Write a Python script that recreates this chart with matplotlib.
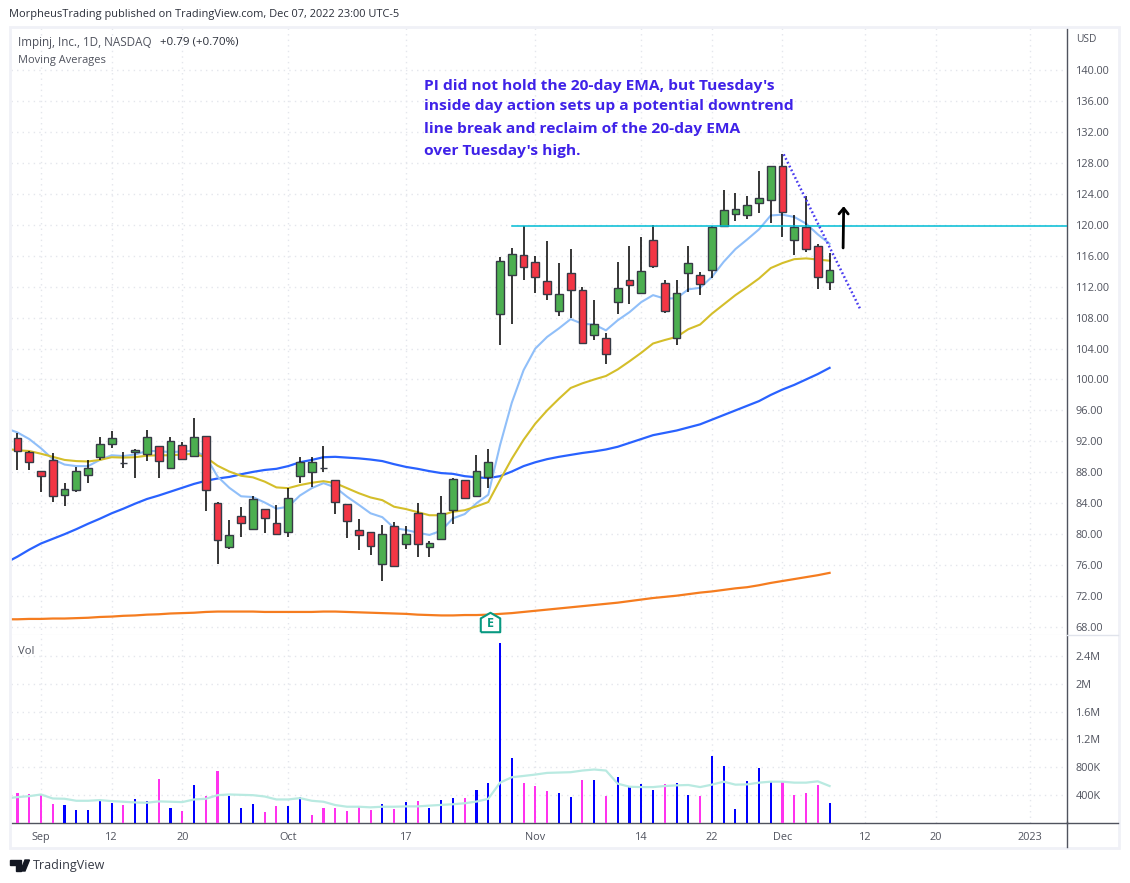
import matplotlib
matplotlib.use('Agg')
import matplotlib.pyplot as plt
import numpy as np
import pandas as pd
from matplotlib.lines import Line2D
from matplotlib.patches import Polygon, Rectangle

plt.rcParams['font.family'] = ['Open Sans', 'DejaVu Sans']

W, H = 1130, 883

# trading days, 2022-08-29 onward, plus the empty future part of the chart
holidays = ['2022-09-05', '2022-11-24', '2022-12-26', '2023-01-02']
days = pd.bdate_range('2022-08-29', '2023-01-20').drop(pd.to_datetime(holidays))

opens = [92.4, 92.4, 90.6, 88.2, 89.6, 85.05, 85.7, 87.6, 90.0, 91.6, 89.2, 90.6, 90.35, 91.4,
         88.55, 91.5, 90.1, 92.7, 84.0, 78.3, 82.3, 80.65, 83.2, 81.4, 80.25, 87.5, 88.0, 88.6,
         87.0, 83.85, 80.5, 80.25, 76.15, 81.0, 78.7, 82.7, 78.3, 79.35, 83.1, 87.0, 85.0, 87.35,
         108.5, 113.55, 116.15, 115.2, 112.75, 108.8, 113.8, 111.6, 105.8, 105.3, 110.05, 112.9,
         111.2, 118.05, 112.5, 105.4, 113.8, 113.45, 114.2, 119.9, 121.45, 121.2, 122.75, 123.25,
         127.65, 118.0, 119.65, 117.3, 112.65]
closes = [91.2, 90.7, 89.3, 87.5, 84.9, 85.8, 88.15, 88.6, 91.6, 92.4, 89.15, 90.9, 92.55, 89.45,
          92.0, 89.7, 92.55, 85.7, 79.2, 79.9, 81.4, 84.5, 82.05, 80.0, 84.65, 89.3, 89.3, 88.55,
          84.15, 81.7, 79.9, 78.45, 80.0, 75.9, 80.0, 78.7, 78.85, 82.7, 87.1, 84.65, 88.15, 89.3,
          115.35, 116.25, 114.6, 113.3, 111.0, 111.0, 111.6, 104.65, 107.2, 103.35, 111.85, 112.15,
          114.05, 114.7, 108.8, 111.2, 115.0, 112.4, 119.75, 121.85, 122.0, 122.5, 123.4, 127.65,
          121.6, 119.65, 116.9, 113.3, 114.1]
highs = [92.8, 93.1, 90.8, 88.2, 90.5, 86.6, 88.7, 89.6, 92.6, 93.4, 90.6, 91.0, 93.5, 91.4,
         92.6, 91.9, 95.05, 92.7, 84.15, 81.8, 83.5, 84.9, 83.2, 83.75, 85.95, 90.0, 90.0, 91.35,
         87.0, 83.85, 81.95, 80.25, 81.15, 81.55, 81.0, 84.0, 79.15, 84.9, 87.25, 87.0, 90.3, 91.0,
         115.85, 117.0, 119.8, 116.0, 117.95, 115.1, 116.8, 112.0, 110.3, 106.05, 115.2, 117.3,
         118.45, 120.0, 112.8, 112.9, 117.2, 113.95, 119.8, 124.55, 124.15, 123.65, 127.0, 127.65,
         129.1, 121.2, 123.65, 117.55, 116.4]
lows = [90.8, 88.3, 88.3, 85.5, 84.1, 83.6, 85.5, 86.6, 89.6, 91.2, 88.6, 87.2, 89.5, 87.2,
        88.5, 89.7, 90.1, 82.95, 76.1, 78.15, 79.7, 80.6, 80.1, 80.0, 79.7, 86.65, 86.15, 88.1,
        82.65, 79.55, 77.9, 77.25, 73.9, 75.9, 78.15, 77.1, 77.1, 79.35, 81.35, 84.5, 84.85, 85.95,
        104.45, 107.2, 112.85, 111.2, 110.3, 108.2, 107.9, 104.65, 105.1, 101.95, 108.5, 109.7,
        111.2, 114.45, 108.6, 104.5, 111.35, 110.95, 113.1, 119.8, 120.5, 120.75, 121.55, 120.25,
        118.45, 116.1, 116.5, 111.7, 111.6]

ema_fast = [93.7, 93.15, 92.3, 91.1, 89.7, 89.0, 88.8, 88.8, 89.6, 90.2, 90.1, 90.3, 90.75, 90.75,
            90.6, 90.7, 90.8, 90.05, 87.45, 86.0, 84.9, 84.8, 84.1, 83.3, 83.55, 85.0, 85.95, 86.6,
            86.05, 84.85, 83.8, 82.7, 82.2, 80.8, 80.55, 80.2, 79.9, 80.45, 82.05, 82.6, 84.0, 85.1,
            91.5, 97.0, 101.2, 104.0, 105.5, 106.6, 107.8, 107.2, 107.1, 106.35, 107.65, 108.7,
            110.0, 110.9, 110.45, 110.5, 111.65, 111.85, 113.25, 115.2, 116.85, 118.1, 119.4, 121.2,
            121.3, 121.0, 120.15, 118.75, 117.55]
ema_mid = [91.05, 90.85, 90.75, 90.4, 90.0, 89.6, 89.45, 89.4, 89.6, 89.95, 89.9, 89.95, 90.15, 90.2,
           90.2, 90.3, 90.4, 89.95, 88.85, 88.1, 87.55, 87.35, 86.8, 86.05, 85.95, 86.35, 86.65, 86.85,
           86.6, 85.95, 85.3, 84.75, 84.4, 83.55, 83.25, 82.85, 82.45, 82.45, 82.9, 83.1, 83.6, 84.15,
           87.0, 89.75, 92.2, 94.3, 96.0, 97.5, 98.9, 99.5, 100.0, 100.45, 101.3, 102.35,
           103.45, 104.65, 105.1, 105.5, 106.5, 107.1, 108.5, 109.7, 110.9, 111.95, 113.05, 114.4,
           115.05, 115.55, 115.65, 115.5, 115.35]
sma_50 = [76.3, 77.1, 78.0, 78.8, 79.4, 80.0, 80.65, 81.35, 82.0, 82.7, 83.3, 83.95, 84.55, 85.0,
          85.5, 86.0, 86.5, 86.9, 87.2, 87.4, 87.75, 88.05, 88.3, 88.45, 88.8, 89.3, 89.6, 89.95,
          90.0, 89.9, 89.8, 89.65, 89.45, 89.05, 88.7, 88.45, 88.15, 87.9, 87.8, 87.5, 87.35, 87.25,
          87.5, 88.1, 88.8, 89.3, 89.7, 90.0, 90.25, 90.5, 90.7, 90.95, 91.3, 91.8,
          92.3, 92.8, 93.1, 93.4, 93.8, 94.2, 94.8, 95.4, 96.0, 96.6, 97.2, 98.0,
          98.7, 99.3, 100.0, 100.7, 101.5]
sma_200 = [69.0, 69.0, 69.05, 69.05, 69.1, 69.1, 69.15, 69.2, 69.3, 69.35, 69.45, 69.5, 69.6, 69.65,
           69.75, 69.8, 69.85, 69.95, 70.0, 70.0, 70.0, 70.0, 69.95, 69.95, 69.95, 69.95, 69.95, 70.0,
           70.0, 69.95, 69.9, 69.85, 69.8, 69.75, 69.7, 69.6, 69.55, 69.5, 69.5, 69.55, 69.55, 69.6,
           69.7, 69.8, 69.95, 70.1, 70.25, 70.4, 70.55, 70.7, 70.85, 71.0, 71.15, 71.35,
           71.55, 71.75, 71.9, 72.05, 72.25, 72.45, 72.6, 72.8, 73.0, 73.15, 73.4, 73.7,
           73.95, 74.2, 74.45, 74.7, 75.0]

# volume in thousands, b = blue bar, p = pink bar
volume = [400, 428, 414, 409, 271, 257, 186, 186, 328, 286, 257, 343, 314, 628,
          214, 171, 543, 386, 743, 386, 214, 271, 157, 243, 243, 371, 114, 214,
          214, 171, 243, 186, 271, 200, 300, 314, 205, 322, 351, 351, 468, 571,
          2591, 937, 571, 527, 454, 425, 366, 615, 615, 381, 659, 512,
          556, 468, 556, 571, 395, 381, 966, 820, 190, 600, 790, 600,
          586, 395, 425, 542, 278]
volume_dir = ('ppppp' 'bbbbb' 'pbbpbpbppbbb' 'ppbbppppppbpbpb' 'bbpbbbbpppbbpbp'
              'bbbbpbbpbbbbbbppppb')
vol_ma = [347, 367, 381, 405, 347, 343, 314, 314, 324, 309, 300, 290, 286, 305,
          300, 295, 333, 343, 395, 405, 400, 395, 376, 333, 333, 352, 314, 300,
          252, 228, 228, 219, 228, 228, 233, 233, 244, 254, 264, 278, 303, 342,
          576, 654, 673, 693, 717, 722, 727, 751, 766, 751, 561, 517,
          512, 512, 527, 537, 542, 512, 547, 590, 547, 551, 576, 590,
          590, 576, 576, 595, 527]

price_ticks = list(range(68, 141, 4))
vol_ticks = [400, 800, 1200, 1600, 2000, 2400]
vol_labels = ['400K', '800K', '1.2M', '1.6M', '2M', '2.4M']
date_ticks = ['2022-09-01', '2022-09-12', '2022-09-20', '2022-10-03', '2022-10-17', '2022-11-01',
              '2022-11-14', '2022-11-22', '2022-12-01', '2022-12-12', '2022-12-20', '2023-01-03']
date_labels = ['Sep', '12', '20', 'Oct', '17', 'Nov', '14', '22', 'Dec', '12', '20', '2023']

note_lines = ["PI did not hold the 20-day EMA, but Tuesday's",
              "inside day action sets up a potential downtrend",
              "line break and reclaim of the 20-day EMA",
              "over Tuesday's high."]

GRID = '#E4E6EC'
AXIS = '#50535E'
TXT = '#50535E'
BORDER = '#F0F1F7'


def px_axes(fig, left, top, right, bottom):
    return fig.add_axes([left / W, 1 - bottom / H, (right - left) / W, (bottom - top) / H])


def fx(x):
    return x / W


def fy(y):
    return 1 - y / H


def style_axis(ax, ticks, labels):
    ax.yaxis.tick_right()
    ax.set_yticks(ticks)
    ax.set_yticklabels(labels)
    ax.set_xticks(tick_idx)
    ax.tick_params(axis='both', length=0, colors=TXT, labelsize=7.8)
    ax.tick_params(axis='y', pad=6.5)
    ax.grid(True, color=GRID, lw=1, ls=(0, (1, 3)))
    ax.set_axisbelow(True)
    ax.spines['top'].set_visible(False)
    ax.spines['left'].set_visible(False)
    ax.spines['right'].set_color(AXIS)
    ax.spines['right'].set_linewidth(1.0)


x = np.arange(len(opens))
tick_idx = days.get_indexer(pd.to_datetime(date_ticks))
opens_a, closes_a = np.array(opens), np.array(closes)

fig = plt.figure(figsize=(W / 100, H / 100), dpi=100, facecolor='white')

ax = px_axes(fig, 11, 28, 1066.5, 635)
ax2 = px_axes(fig, 11, 635, 1066.5, 822.5)

# price pane
style_axis(ax, price_ticks, ['%.2f' % p for p in price_ticks])
ax.set_xlim(0.45, 90.13)
ax.set_ylim(66.97, 145.43)
ax.tick_params(axis='x', labelbottom=False)
ax.spines['bottom'].set_color('#E0E3EB')

ax.plot(x, sma_200, color='#F57C1F', lw=1.6, zorder=2)
ax.plot(x, sma_50, color='#2962FF', lw=1.6, zorder=2)
ax.plot(x, ema_fast, color='#90BFF9', lw=1.5, zorder=2)
ax.plot(x, ema_mid, color='#D4BE2A', lw=1.5, zorder=2)

ax.vlines(x, lows, highs, color='black', lw=1.1, zorder=3)
up = closes_a >= opens_a
body_lo = np.minimum(opens_a, closes_a)
body_h = np.abs(closes_a - opens_a)
ax.bar(x, body_h, bottom=body_lo, width=0.66, color=np.where(up, '#4CAF50', '#F23645'),
       edgecolor='#363A45', lw=1.0, zorder=4)

ax.plot([43, 90.13], [119.85, 119.85], color='#00BCD4', lw=1.1, zorder=5)
ax.plot([66.1, 72.6], [129.1, 109.1], color='#4A3CF0', lw=1.8, ls=(0, (0.7, 1.0)), zorder=5)
ax.annotate('', xy=(71.2, 122.4), xytext=(71.15, 117.0), zorder=6,
            arrowprops=dict(arrowstyle='->,head_length=0.4,head_width=0.33', color='black', lw=2,
                            shrinkA=0, shrinkB=0))

for line, y_px in zip(note_lines, [86, 106, 128.5, 151]):
    fig.text(fx(424), fy(y_px), line, color='#3F22E8', fontsize=11.15, fontweight='bold',
             va='center', ha='left', zorder=7)

# earnings badge
badge = [(-1, -1), (1, -1), (1, 0.42), (0, 1), (-1, 0.42), (-1, -1)]
ax.plot([41.15], [68.65], marker=badge, ms=14, mfc='white', mec='#089981', mew=1.5, zorder=6,
        clip_on=False)
ax.text(41.15, 68.45, 'E', color='#089981', fontsize=9, fontweight='bold', ha='center', va='center',
        zorder=7)

# volume pane
style_axis(ax2, vol_ticks, vol_labels)
ax2.set_xlim(0.45, 90.13)
ax2.set_ylim(0, 2710)
ax2.set_xticklabels(date_labels)
ax2.tick_params(axis='x', pad=6.5)
ax2.spines['bottom'].set_color(AXIS)
ax2.spines['bottom'].set_linewidth(1.0)
vol_colors = ['#0000FF' if d == 'b' else '#FF33EE' for d in volume_dir]
ax2.bar(x, volume, width=0.18, color=vol_colors, zorder=3)
ax2.plot(x, vol_ma, color='#B9EAE1', lw=1.6, zorder=4)

# frame around the panes and the time axis
fig.add_artist(Rectangle((fx(10), fy(848)), 1109 / W, 821 / H, transform=fig.transFigure,
                         fill=False, ec=BORDER, lw=2))
fig.add_artist(Line2D([fx(1066.5), fx(1066.5)], [fy(822), fy(847)], color=AXIS, lw=1.0))
fig.add_artist(Line2D([fx(1066.5), fx(1118)], [fy(822.5), fy(822.5)], color=AXIS, lw=1.0))
fig.add_artist(Line2D([fx(1066.5), fx(1118)], [fy(635), fy(635)], color='#E0E3EB', lw=1.0))

fig.text(fx(9), fy(14), 'MorpheusTrading published on TradingView.com, Dec 07, 2022 23:00 UTC-5',
         color='#2A2E39', fontsize=7.95, va='center')
fig.text(fx(18), fy(42.5), 'Impinj, Inc., 1D, NASDAQ', color=TXT, fontsize=8.4, va='center')
fig.text(fx(160), fy(42.5), '+0.79 (+0.70%)', color='#2A2E39', fontsize=8.25, va='center')
fig.text(fx(18), fy(60), 'Moving Averages', color=TXT, fontsize=7.95, va='center')
fig.text(fx(18), fy(652), 'Vol', color=TXT, fontsize=8.1, va='center')
fig.text(fx(1076), fy(39.5), 'USD', color=TXT, fontsize=7.4, va='center')

# TradingView logo
logo = [[(10, 860), (21, 860), (21, 871), (16, 871), (16, 865), (10, 865)],
        [(25, 860), (29.5, 860), (25, 871), (20.5, 871)]]
for shape in logo:
    fig.add_artist(Polygon([(fx(a), fy(b)) for a, b in shape], closed=True, color='#131722',
                           transform=fig.transFigure))
fig.text(fx(33), fy(866), 'TradingView', color='#363A45', fontsize=9.0, va='center')

fig.savefig('out.png', dpi=100)
